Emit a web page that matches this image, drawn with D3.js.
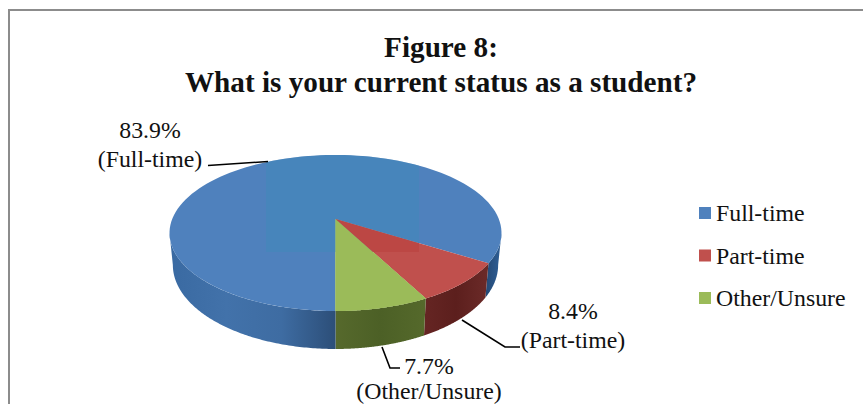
<!DOCTYPE html>
<html><head><meta charset="utf-8">
<script src="https://cdn.jsdelivr.net/npm/d3@7"></script>
<style>html,body{margin:0;background:#fff;overflow:hidden}svg{display:block}text{font-family:"Liberation Serif",serif;fill:#111}</style>
</head><body><svg id="c" width="863" height="404"></svg>
<script>
const categories=["Full-time","Part-time","Other/Unsure"];
const values=[83.9,8.4,7.7];
const topColors=["#4f81bd","#c0504d","#9bbb59"];
const titleLines=["Figure 8:","What is your current status as a student?"];
const labelPct=["83.9%","8.4%","7.7%"];
const labelName=["(Full-time)","(Part-time)","(Other/Unsure)"];

const svg=d3.select("#c");
const defs=svg.append("defs");
// frame
svg.append("path").attr("d","M9,404V10H863").attr("fill","none").attr("stroke","#8c8c8c").attr("stroke-width",2);

// title
svg.selectAll("text.t").data(titleLines).join("text").attr("class","t")
 .attr("x",441).attr("y",(d,i)=>57+i*35).attr("text-anchor","middle")
 .attr("font-size",29.2).attr("font-weight","bold").attr("fill","#000").text(d=>d);

// projective view of the disc
const cx=335.5;
const persp=-0.1795;
const topPlane={y0:219,a:75.5,b:persp,c:163.3};
const botPlane={y0:249.9,a:81.3,b:persp,c:160};
const proj=(p,t)=>{const u=Math.sin(t),v=-Math.cos(t),w=1+p.b*v;return [cx+p.c*u/w,p.y0+p.a*v/w];};
const arcs=d3.pie().sort(null).startAngle(Math.PI).endAngle(3*Math.PI)(values);
const samples=(s,e)=>d3.range(0,121).map(i=>s+(e-s)*i/120);
const line=d3.line();
// silhouette angle of the side wall, measured from the front of the disc
const tangent=Math.acos(-persp);

// walls (visible front part)
const grad=(id,stops,x1,x2)=>{const g=defs.append("linearGradient").attr("id",id).attr("gradientUnits","userSpaceOnUse").attr("x1",x1).attr("x2",x2).attr("y1",0).attr("y2",0);
 stops.forEach((c,i)=>g.append("stop").attr("offset",i/(stops.length-1)).attr("stop-color",c));};
grad("wallBlueL",["#3a6aa2","#4272aa","#3e6ca2","#2c4e78"],172,336);
grad("wallBlueR",["#234670","#2f5f96"],484,501);
grad("wallRed",["#652523","#5c1f1d","#6b2a28"],425,487);
grad("wallGreen",["#56692c","#4c6026","#55692b"],336,425);
const wall=(s,e,f)=>{const top=samples(s,e).map(t=>proj(topPlane,t)),bot=samples(s,e).map(t=>proj(botPlane,t)).reverse();
 svg.append("path").attr("d",line(top.concat(bot))+"Z").attr("fill",f);};
const full=arcs[0];
wall(Math.PI-tangent,full.endAngle-2*Math.PI,"url(#wallBlueR)");
wall(arcs[1].startAngle,arcs[1].endAngle,"url(#wallRed)");
wall(arcs[2].startAngle,arcs[2].endAngle,"url(#wallGreen)");
wall(full.startAngle,full.startAngle+tangent,"url(#wallBlueL)");

// top face
const apex=[cx,topPlane.y0];
const sliceD=a=>line([apex].concat(samples(a.startAngle,a.endAngle).map(t=>proj(topPlane,t))))+"Z";
svg.selectAll("path.s").data(arcs).join("path").attr("class","s").attr("d",sliceD)
 .attr("fill",(d,i)=>topColors[i]);

// lighter patch inside the top face
defs.append("clipPath").attr("id","disc").append("path").attr("d",line(samples(0,2*Math.PI).map(t=>proj(topPlane,t)))+"Z");
svg.append("rect").attr("clip-path","url(#disc)").attr("x",266).attr("y",150).attr("width",153).attr("height",102)
 .attr("fill","#3d89b8").attr("opacity",0.45);
svg.append("path").attr("d",sliceD(arcs[2])).attr("fill",topColors[2]);
defs.append("clipPath").attr("id","redClip").append("rect").attr("x",266).attr("y",150).attr("width",153).attr("height",102);
svg.append("path").attr("d",sliceD(arcs[1])).attr("clip-path","url(#redClip)").attr("fill","#bc4744");

// leader lines
const leaders=[[[208,165.5],[268,161.5]],[[462,320],[505,347],[520,347]],[[382,347],[390,368],[400,368]]];
svg.selectAll("path.l").data(leaders).join("path").attr("class","l").attr("d",d=>line(d)).attr("fill","none").attr("stroke","#000").attr("stroke-width",1.6);

// data labels
const labelPos=[[150,[138,167]],[573,[319,348]],[429,[374,399]]];
labelPos.forEach((p,i)=>{
 svg.append("text").attr("x",p[0]).attr("y",p[1][0]).attr("text-anchor","middle").attr("font-size",23.8).text(labelPct[i]);
 svg.append("text").attr("x",p[0]).attr("y",p[1][1]).attr("text-anchor","middle").attr("font-size",23.8).text(labelName[i]);
});

// legend
const legendY=d3.scalePoint().domain(categories).range([213,298]);
categories.forEach((c,i)=>{
 svg.append("rect").attr("x",699).attr("y",legendY(c)-6).attr("width",12).attr("height",12).attr("fill",topColors[i]);
 svg.append("text").attr("x",716).attr("y",legendY(c)+8).attr("font-size",23.8).text(c);
});
</script></body></html>
